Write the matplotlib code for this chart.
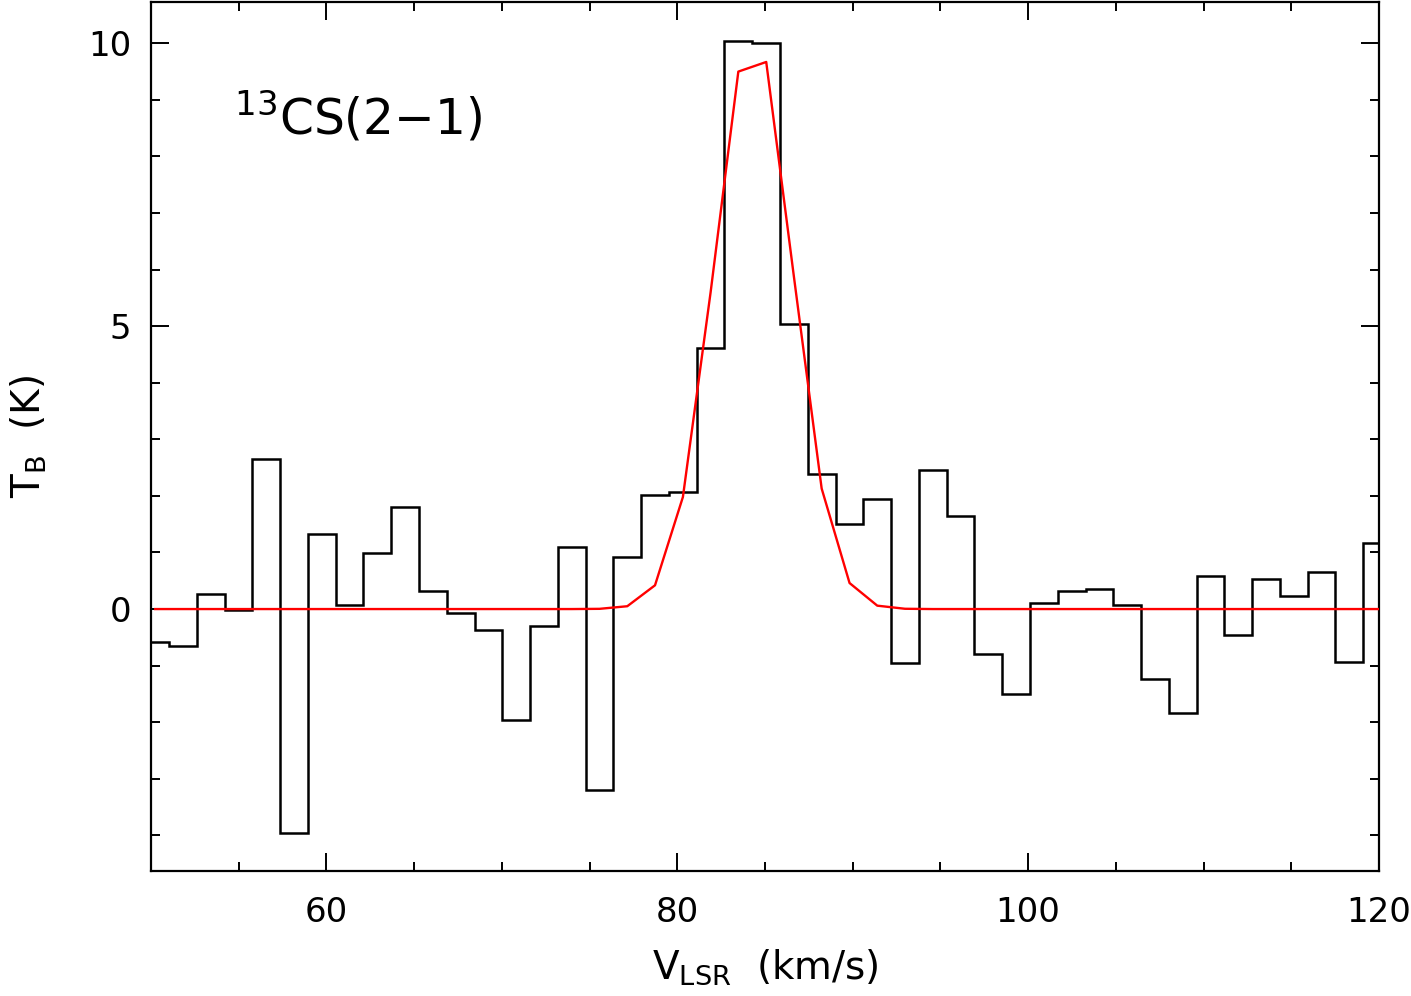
import numpy as np
import matplotlib
matplotlib.use("Agg")
import matplotlib.pyplot as plt
from matplotlib.ticker import MultipleLocator

plt.rcParams['font.family'] = ['DejaVu Sans']
plt.rcParams['mathtext.default'] = 'regular'

# channel centre velocities (km/s)
velocity = [50.24, 51.82, 53.41, 54.99, 56.57, 58.16, 59.74, 61.32, 62.90, 64.49,
            66.07, 67.65, 69.24, 70.82, 72.40, 73.99, 75.57, 77.15, 78.73, 80.32,
            81.90, 83.48, 85.07, 86.65, 88.23, 89.82, 91.40, 92.98, 94.56, 96.15,
            97.73, 99.31, 100.90, 102.48, 104.06, 105.65, 107.23, 108.81, 110.39, 111.98,
            113.56, 115.14, 116.73, 118.31, 119.89]

# observed brightness temperature (K)
tb_obs = [-0.58, -0.66, 0.26, -0.02, 2.65, -3.95, 1.32, 0.08, 0.99, 1.81,
          0.32, -0.07, -0.37, -1.96, -0.30, 1.09, -3.20, 0.92, 2.01, 2.07,
          4.61, 10.04, 10.00, 5.03, 2.38, 1.51, 1.94, -0.95, 2.45, 1.64,
          -0.79, -1.51, 0.10, 0.32, 0.35, 0.08, -1.23, -1.83, 0.58, -0.45,
          0.53, 0.23, 0.66, -0.94, 1.16]

# fitted profile sampled at the channel centres (plus one channel beyond)
fit_velocity = velocity + [121.48]
tb_fit = [0.0, 0.0, 0.0, 0.0, 0.0, 0.0, 0.0, 0.0, 0.0, 0.0,
          0.0, 0.0, 0.0, 0.0, 0.0, 0.0, 0.004, 0.05, 0.42, 1.98,
          5.6, 9.5, 9.67, 5.87, 2.13, 0.46, 0.06, 0.005, 0.0, 0.0,
          0.0, 0.0, 0.0, 0.0, 0.0, 0.0, 0.0, 0.0, 0.0, 0.0,
          0.0, 0.0, 0.0, 0.0, 0.0, 0.0]

x_ticks = [60, 80, 100, 120]
y_ticks = [0, 5, 10]

v = np.array(velocity)
edges = np.concatenate([[v[0] - (v[1] - v[0]) / 2], (v[1:] + v[:-1]) / 2,
                        [v[-1] + (v[-1] - v[-2]) / 2]])

fig = plt.figure(figsize=(14.11, 9.96), dpi=100)
ax = fig.add_axes([151 / 1411, 1 - 871 / 996, 1228 / 1411, 869 / 996])

ax.stairs(tb_obs, edges, baseline=None, color='black', linewidth=1.8, zorder=2)
ax.plot(fit_velocity, tb_fit, color='#ff0000', linewidth=1.7, zorder=3)

ax.set_xlim(50, 120)
ax.set_ylim(-4.63, 10.73)

ax.set_xticks(x_ticks)
ax.set_yticks(y_ticks)
ax.xaxis.set_minor_locator(MultipleLocator(5))
ax.yaxis.set_minor_locator(MultipleLocator(1))

for s in ax.spines.values():
    s.set_linewidth(1.6)

ax.tick_params(which='both', direction='in', top=True, right=True, width=1.4,
               labelsize=24.5)
ax.tick_params(which='major', length=13.3)
ax.tick_params(which='minor', length=6.8)
ax.tick_params(axis='x', which='major', pad=18)
ax.tick_params(axis='y', which='major', pad=14)

ax.set_xlabel(r'$V_{LSR}$  (km/s)', fontsize=28)
ax.xaxis.set_label_coords(0.5, -0.088)
ax.set_ylabel(r'$T_B$  (K)', fontsize=28)
ax.yaxis.set_label_coords(-0.083, 0.5)

ax.text(0.0676, 0.847, r'$^{13}$CS(2$-$1)', transform=ax.transAxes,
        fontsize=35, ha='left', va='baseline')

fig.savefig('out.png', dpi=100)
